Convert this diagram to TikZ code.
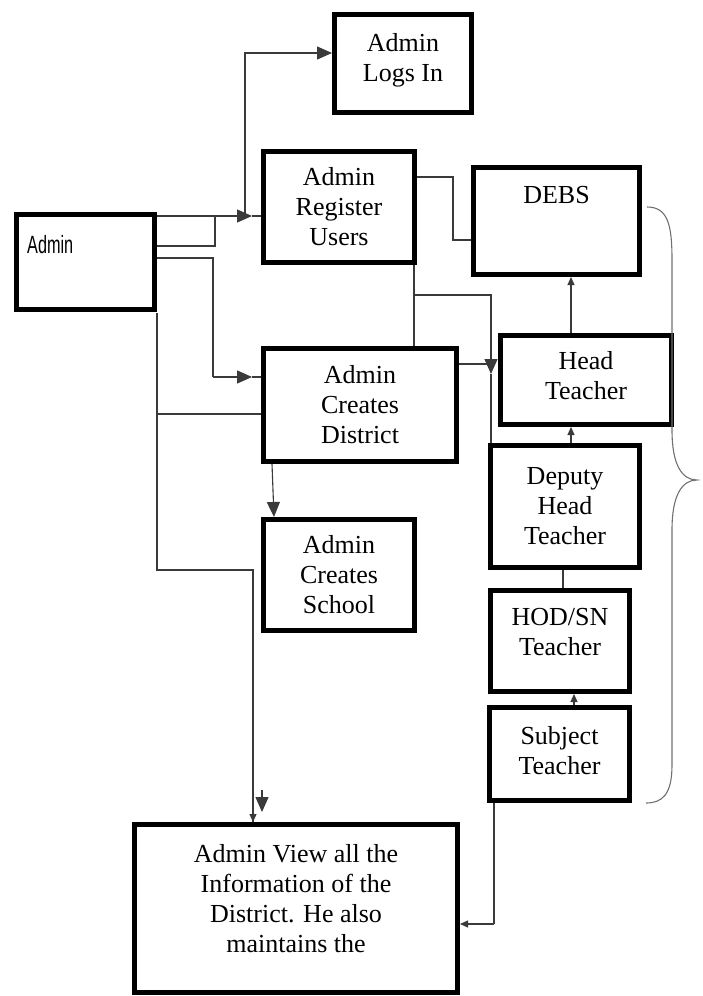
\documentclass[tikz,border=0pt]{standalone}
\usepackage{fontspec}
\setmainfont{Liberation Serif}
\newfontfamily\admsans{Liberation Sans}
\usetikzlibrary{arrows.meta}
\definecolor{lnc}{HTML}{3A3A3A}
\definecolor{brc}{HTML}{707070}
\tikzset{
  box/.style={draw=black, line width=5pt, rectangle, inner sep=0pt, align=center,
    font=\fontsize{26}{30}\selectfont},
  btext/.style={inner sep=0pt, align=center, font=\fontsize{26}{30}\selectfont},
  conn/.style={draw=lnc, line width=1.1pt},
  bigarr/.style={conn, -{Triangle[length=15pt,width=13pt]}},
  smallarr/.style={conn, -{Triangle[length=8pt,width=7pt]}},
}
\begin{document}
\begin{tikzpicture}[x=1pt,y=-1pt]
\useasboundingbox (0,0) rectangle (702,996);
% boxes
\node[box, minimum width=137pt, minimum height=98pt] (login) at (403,63.5) {};
\node[btext] (logintext) at (403,60) {Admin\\Logs In};
\node[box, minimum width=151pt, minimum height=111pt] (reg) at (339,207) {Admin\\Register\\Users};
\node[box, minimum width=166pt, minimum height=107pt] (debs) at (556.5,221) {};
\node[btext, anchor=base] (debstext) at (556.5,203) {DEBS};
\node[box, minimum width=138pt, minimum height=95pt] (admin) at (85.5,262) {};
\node[font=\admsans\fontsize{25}{28}\selectfont, anchor=base west, inner sep=0pt] (admintext) at (27,253) {\scalebox{0.65}[1]{Admin}};
\node[box, minimum width=193pt, minimum height=113pt] (district) at (360,405) {Admin\\Creates\\District};
\node[box, minimum width=151pt, minimum height=111pt] (school) at (339,575) {Admin\\Creates\\School};
\node[box, minimum width=171pt, minimum height=89pt] (head) at (586,380) {};
\node[btext] (headtext) at (586,376) {Head\\Teacher};
\node[box, minimum width=149pt, minimum height=122pt] (deputy) at (565,506.5) {Deputy\\Head\\Teacher};
\node[box, minimum width=139pt, minimum height=101pt] (hod) at (560,641) {};
\node[btext] (hodtext) at (560,632) {HOD/SN\\Teacher};
\node[box, minimum width=140pt, minimum height=93pt] (subject) at (559.5,754) {};
\node[btext] (subjecttext) at (559.5,751) {Subject\\Teacher};
\node[box, minimum width=323pt, minimum height=168pt] (view) at (296,908.5) {};
\node[btext, anchor=north] (viewtext) at (296,844) {Admin View all the\\Information of the\\District. He also\\maintains the};

% helper coordinates
\coordinate (a1) at (admin.east |- 0,216);
\coordinate (j1) at (245,216);
\coordinate (t1) at (252,216);
\coordinate (a2) at (admin.east |- 0,246);
\coordinate (a3) at (admin.east |- 0,258);
\coordinate (t2) at (252,377);
\coordinate (a4) at (157,313);
\coordinate (r1) at (reg.east |- 0,177);
\coordinate (d1) at (491,364);

% Admin -> Register (with branch up to Logs In)
\draw[bigarr] (a1) -- (t1);
\draw[conn] (t1) -- (reg.west |- t1);
\draw[bigarr] (j1) -- (245,53) -- (login.west |- 0,53);
\draw[conn] (a2) -- (215,246) -- (215,216);
% Admin -> District
\draw[conn] (a3) -- (213,258) -- (213,377);
\draw[bigarr] (213,377) -- (t2);
\draw[conn] (t2) -- (district.west |- t2);
% Admin down to View
\draw[conn] (a4) -- (157,570) -- (253,570) -- (view.north -| 253,0);
\draw[smallarr] (253,812) -- (view.north -| 253,0);
\draw[conn] (157,414) -- (district.west |- 0,414);
\draw[bigarr] (262,790) -- (262,812);
% District -> School
\draw[bigarr] (district.south -| 272,0) -- (school.north -| 274,0);
% Register -> DEBS
\draw[conn] (r1) -- (453,177) -- (453,240) -- (debs.west |- 0,240);
% Register -> District and branch to Deputy
\draw[conn] (reg.south -| 414,0) -- (district.north -| 414,0);
\draw[conn] (414,295) -- (491,295) -- (491,360);
\draw[bigarr] (491,355) -- (491,374);
\draw[conn] (491,374) -- (deputy.north -| 491,0);
\draw[conn] (district.east |- d1) -- (d1);
% hierarchy arrows
\draw[smallarr] (head.north -| 571,0) -- (debs.south -| 571,0);
\draw[smallarr] (deputy.north -| 571,0) -- (head.south -| 571,0);
\draw[conn] (deputy.south -| 563,0) -- (hod.north -| 563,0);
\draw[smallarr] (subject.north -| 574,0) -- (hod.south -| 574,0);
% Subject -> View
\draw[conn] (subject.south -| 494,0) -- (494,924);
\draw[smallarr] (494,924) -- (view.east |- 0,924);
% brace
\draw[brc, line width=1.1pt] (647,207) .. controls (668,207) and (672,225) .. (672,260) -- (672,430)
  .. controls (672,465) and (682,480) .. (697,480)
  .. controls (682,480) and (672,495) .. (672,530) -- (672,765)
  .. controls (672,795) and (662,803) .. (646,803);
\end{tikzpicture}
\end{document}
